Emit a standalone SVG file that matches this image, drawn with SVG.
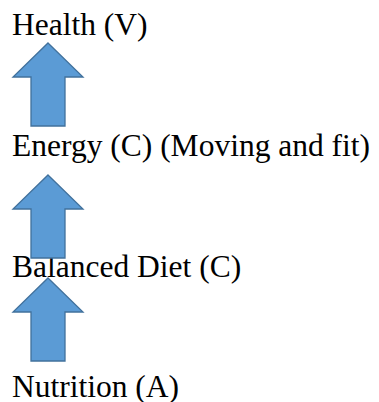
<svg xmlns="http://www.w3.org/2000/svg" width="379" height="402" viewBox="0 0 379 402">
  <style>
    .label { font-family: "Liberation Serif", "Times New Roman", serif; font-size: 31.5px; fill: #000; }
    .up { fill: #5B9BD5; stroke: #41719C; stroke-width: 1.3; stroke-linejoin: miter; }
  </style>
  <defs>
    <!-- block up-arrow, tip at origin -->
    <path id="upArrow" d="M0,0 L35,34 L17,34 L17,83 L-17,83 L-17,34 L-35,34 Z"/>
  </defs>
  <rect width="379" height="402" fill="#fff"/>
  <g id="health"><text class="label" x="12" y="35">Health (V)</text></g>
  <g id="energy"><text class="label" x="12" y="156">Energy (C) (Moving and fit)</text></g>
  <g id="balanced-diet"><text class="label" x="12" y="277">Balanced Diet (C)</text></g>
  <g id="nutrition"><text class="label" x="12" y="397">Nutrition (A)</text></g>
  <g id="connectors">
    <use href="#upArrow" class="up" x="48" y="43"/>
    <use href="#upArrow" class="up" x="48" y="175"/>
    <use href="#upArrow" class="up" x="48" y="278"/>
  </g>
</svg>
